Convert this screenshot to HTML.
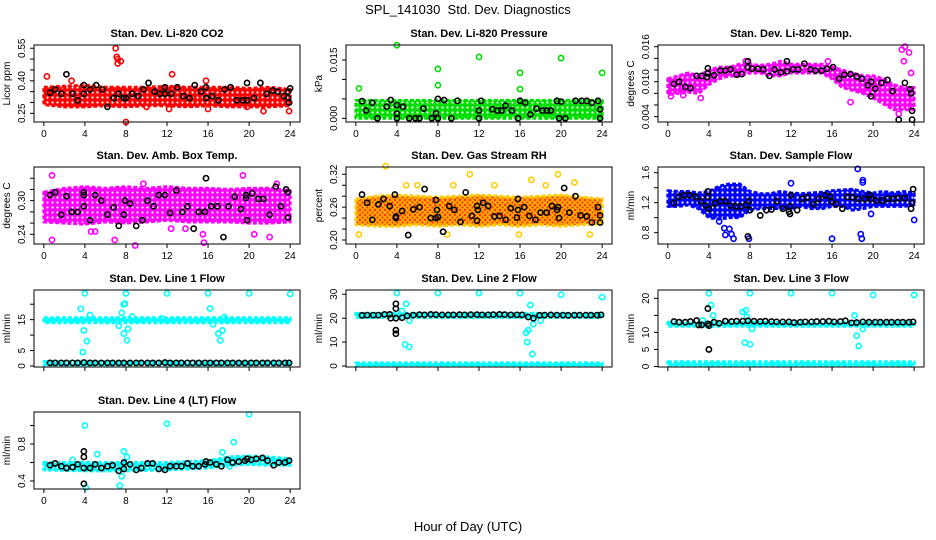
<!DOCTYPE html>
<html><head><meta charset="utf-8">
<style>
html,body{margin:0;padding:0;background:#fff;}
svg{display:block;font-family:"Liberation Sans",sans-serif;}
</style></head>
<body>
<svg id="chart" width="936" height="540" viewBox="0 0 936 540" xmlns="http://www.w3.org/2000/svg">
<defs id="defs">
<pattern id="rhpat" width="5" height="5" patternUnits="userSpaceOnUse">
<rect width="5" height="5" fill="#ff3000"/><circle cx="2.5" cy="2.5" r="1.8" fill="none" stroke="#ffd000" stroke-width="1.2"/>
</pattern>
</defs>
<text x="468" y="14" text-anchor="middle" font-size="13">SPL_141030&#160; Std. Dev. Diagnostics</text>
<text x="468" y="531" text-anchor="middle" font-size="13">Hour of Day (UTC)</text>
</svg>
<script>
// ---------- data ----------
const xTicks = [0,4,8,12,16,20,24];
const lineHours = [0.6,1.1,1.7,2.2,2.8,3.3,3.9,4.5,5.0,5.6,6.2,6.7,7.3,7.8,8.4,9.0,9.5,10.1,10.6,11.2,11.8,12.3,12.9,13.4,14.0,14.5,15.1,15.7,16.2,16.8,17.3,17.9,18.4,19.0,19.6,20.2,20.7,21.3,21.8,22.4,22.9,23.5,23.9];

// CO2
const co2BandX = [0,2,4,6,8,10,12,14,16,18,20,22,24];
const co2BandLo = [0.29,0.28,0.28,0.285,0.28,0.285,0.285,0.28,0.285,0.28,0.28,0.28,0.285];
const co2BandHi = [0.37,0.375,0.38,0.37,0.37,0.37,0.375,0.37,0.37,0.37,0.365,0.37,0.36];
const co2OutX = [0.3,2.7,7.0,7.1,7.2,7.2,7.5,8.0,12.5,21.4,23.9,19.8,12.2,15.8,10.0,16.0];
const co2OutY = [0.42,0.40,0.55,0.51,0.50,0.48,0.49,0.21,0.43,0.26,0.26,0.28,0.27,0.40,0.28,0.27];
const co2BlkX = [0.6,1.1,1.7,2.2,2.8,3.3,3.9,3.9,4.5,5.1,5.7,6.2,6.8,7.3,7.8,8.0,8.6,9.2,9.7,10.2,10.8,11.3,11.8,11.8,12.4,13.0,13.6,14.2,14.7,15.3,15.8,15.8,16.4,17.0,17.6,18.2,18.8,19.4,19.8,19.8,20.5,21.1,21.7,22.3,22.8,23.4,23.8,23.8,23.9,24.0];
const co2BlkY = [0.345,0.36,0.34,0.43,0.34,0.31,0.34,0.38,0.36,0.38,0.36,0.28,0.32,0.34,0.32,0.32,0.34,0.33,0.36,0.39,0.35,0.34,0.37,0.34,0.34,0.37,0.33,0.32,0.38,0.35,0.37,0.32,0.33,0.31,0.36,0.37,0.31,0.31,0.31,0.39,0.32,0.39,0.34,0.355,0.35,0.33,0.35,0.32,0.30,0.365];

// Pressure
const prsBandX = [0,24];
const prsBandLo = [0.0,0.0];
const prsBandHi = [0.0046,0.0046];
const prsOutX = [0.3,4.0,8.0,8.0,12.0,16.0,16.0,20.0,24.0];
const prsOutY = [0.0077,0.0188,0.0127,0.0085,0.0158,0.0117,0.0075,0.0155,0.0117];
const prsBlkX = [0.6,1.0,1.6,2.1,3.0,3.4,4.0,4.0,4.0,4.6,5.2,5.8,6.2,6.6,7.4,7.8,8.0,8.0,8.6,9.3,9.9,12.0,12.0,12.2,13.3,13.8,14.2,14.6,15.2,15.8,16.0,16.5,17.0,17.6,18.2,18.6,19.0,19.6,19.8,20.0,20.4,21.4,22.0,22.5,23.0,23.6,23.8,23.8];
const prsBlkY = [0.0044,0.002,0.004,0.0,0.003,0.0047,0.0012,0.0034,0.0,0.003,0.0,0.0,0.0,0.0025,0.0,0.0013,0.005,0.0,0.0047,0.0,0.0045,0.0,0.002,0.0045,0.0023,0.002,0.002,0.0033,0.002,0.0,0.0045,0.004,0.001,0.0025,0.002,0.002,0.002,0.0045,0.0,0.0043,0.0,0.0045,0.0045,0.0045,0.004,0.0045,0.0023,0.0];

// Li-820 Temp
const tmpBandX = [0,1,2,3,4,5,6,7,8,9,10,11,12,13,14,15,16,17,18,19,20,21,22,23,24];
const tmpBandLo = [0.0078,0.008,0.0082,0.008,0.0095,0.0105,0.011,0.011,0.0115,0.0115,0.011,0.011,0.0115,0.0115,0.0115,0.0115,0.0105,0.009,0.0085,0.008,0.0072,0.0062,0.0052,0.0052,0.0052];
const tmpBandHi = [0.0105,0.011,0.0115,0.011,0.012,0.0125,0.0125,0.013,0.013,0.0128,0.013,0.0135,0.013,0.013,0.013,0.013,0.0125,0.012,0.0115,0.011,0.011,0.0105,0.0095,0.009,0.009];
const tmpOutX = [0.3,22.8,23.1,23.5,23.7,23.0,22.5,3.2,1.5,17.8,7.6,15.6];
const tmpOutY = [0.0075,0.0155,0.016,0.015,0.0115,0.0135,0.0045,0.0072,0.0077,0.0065,0.0135,0.0135];
const tmpBlkX = [0.6,1.1,1.7,2.2,2.8,3.3,3.8,3.9,3.9,4.5,5.1,5.6,6.1,6.7,7.2,7.8,7.8,8.2,8.8,9.3,9.9,10.4,11.0,11.6,11.6,12.2,12.7,13.3,13.9,14.4,15.0,15.5,16.1,16.7,17.2,17.8,18.4,18.9,19.5,19.8,19.8,20.2,20.8,21.4,21.9,22.5,23.1,23.6,23.7,23.8,23.8];
const tmpBlkY = [0.0096,0.01,0.0091,0.0089,0.011,0.011,0.0108,0.0114,0.0123,0.0111,0.0119,0.0119,0.0121,0.0112,0.0113,0.0135,0.0125,0.0122,0.0122,0.0121,0.011,0.0121,0.0116,0.0135,0.0118,0.0121,0.0121,0.0131,0.0121,0.0119,0.0119,0.0122,0.0125,0.0105,0.0112,0.0113,0.0109,0.0105,0.0094,0.01,0.0075,0.0088,0.0098,0.0103,0.0084,0.0035,0.0098,0.0087,0.008,0.005,0.0035];

// Amb box temp
const ambBandX = [0,2,4,6,8,10,12,14,16,18,20,22,24];
const ambBandLo = [0.262,0.26,0.258,0.262,0.26,0.262,0.265,0.262,0.262,0.262,0.26,0.26,0.262];
const ambBandHi = [0.315,0.322,0.325,0.322,0.325,0.322,0.325,0.322,0.322,0.32,0.322,0.322,0.318];
const ambOutX = [0.8,0.8,6.9,8.9,12.4,15.5,19.4,22.0,22.7,4.6,15.6,9.7,5.0,13.8,20.5];
const ambOutY = [0.345,0.23,0.23,0.22,0.25,0.24,0.345,0.235,0.33,0.245,0.225,0.33,0.245,0.25,0.24];
const ambBlkX = [0.6,1.1,1.7,2.2,2.7,3.3,3.9,3.9,3.9,4.5,5.0,5.6,6.2,6.8,7.3,7.8,7.9,8.4,9.0,9.6,10.1,10.7,11.2,11.8,12.3,12.9,13.5,14.0,14.6,15.1,15.7,15.8,16.3,16.9,17.5,18.0,18.6,19.2,19.7,19.7,19.8,20.3,20.9,21.4,22.0,22.6,23.1,23.6,23.8,23.8];
const ambBlkY = [0.31,0.315,0.275,0.308,0.28,0.28,0.31,0.315,0.29,0.265,0.31,0.30,0.275,0.288,0.255,0.275,0.30,0.295,0.255,0.265,0.30,0.29,0.31,0.31,0.278,0.318,0.28,0.29,0.25,0.28,0.28,0.34,0.29,0.29,0.235,0.29,0.307,0.285,0.305,0.31,0.265,0.313,0.303,0.303,0.275,0.325,0.29,0.32,0.315,0.27];

// RH
const rhBandX = [0,2,4,6,8,10,12,14,16,18,20,22,24];
const rhBandLo = [0.228,0.225,0.225,0.228,0.225,0.228,0.225,0.228,0.225,0.228,0.225,0.228,0.23];
const rhBandHi = [0.275,0.28,0.282,0.28,0.278,0.28,0.282,0.28,0.278,0.28,0.282,0.278,0.275];
const rhOutX = [2.9,11.1,19.7,0.3,8.9,15.9,22.8,4.9,21.3,17.1,9.5,13.5,6.0,18.5];
const rhOutY = [0.335,0.32,0.32,0.21,0.21,0.21,0.21,0.30,0.305,0.31,0.30,0.30,0.30,0.30];
const rhBlkX = [0.6,1.1,1.6,2.2,2.7,3.3,3.8,3.9,3.9,4.5,5.1,5.6,6.2,6.7,7.3,7.8,7.8,7.9,8.0,8.5,9.1,9.6,10.2,10.7,11.3,11.8,11.8,11.9,12.4,12.9,13.5,14.0,14.6,15.1,15.7,15.8,15.8,16.4,16.9,17.5,18.0,18.6,19.1,19.6,19.7,19.8,20.3,20.8,21.4,21.9,22.5,23.0,23.6,23.8,23.8];
const rhBlkY = [0.283,0.268,0.237,0.265,0.275,0.262,0.283,0.243,0.24,0.253,0.209,0.256,0.26,0.293,0.24,0.24,0.273,0.255,0.242,0.215,0.262,0.255,0.233,0.287,0.244,0.235,0.262,0.255,0.268,0.262,0.243,0.244,0.237,0.258,0.241,0.255,0.275,0.26,0.244,0.237,0.25,0.25,0.262,0.255,0.26,0.24,0.295,0.25,0.28,0.245,0.243,0.232,0.26,0.245,0.232];

// Sample flow
const smpBandX = [0,1,2,3,4,5,6,7,8,9,10,11,12,13,14,15,16,17,18,19,20,21,22,23,24];
const smpBandLo = [1.15,1.15,1.17,1.12,1.0,0.98,1.0,1.0,1.1,1.12,1.12,1.12,1.12,1.15,1.12,1.12,1.15,1.15,1.1,1.12,1.15,1.15,1.15,1.15,1.17];
const smpBandHi = [1.36,1.35,1.35,1.33,1.35,1.42,1.45,1.45,1.35,1.32,1.32,1.35,1.33,1.32,1.33,1.34,1.36,1.37,1.38,1.35,1.33,1.35,1.33,1.35,1.33];
const smpOutX = [5.5,5.6,6.0,6.2,6.4,7.9,12.0,16.0,18.5,18.8,18.9,19.0,19.0,19.8,24.0,0.4,5.0];
const smpOutY = [0.86,0.77,0.85,0.78,0.72,0.72,1.46,0.72,1.65,0.78,0.72,1.5,1.47,1.05,0.97,1.18,0.95];
const smpBlkX = [0.6,1.1,1.6,2.1,2.7,3.2,3.7,3.9,3.9,4.0,4.6,5.1,5.6,6.1,6.6,7.1,7.6,7.9,7.8,8.0,9.0,9.6,10.1,10.6,11.2,11.8,11.9,11.9,12.0,12.6,13.1,13.6,14.2,14.7,15.3,15.8,15.9,16.4,17.0,17.5,18.0,18.6,19.2,19.7,19.8,20.3,20.9,21.4,22.0,22.5,23.1,23.7,23.8,23.9];
const smpBlkY = [1.2,1.28,1.3,1.3,1.28,1.22,1.16,1.35,1.28,1.12,1.19,1.22,1.22,1.16,1.15,1.15,1.17,1.22,0.75,1.1,1.03,1.1,1.11,1.22,1.12,1.08,1.05,1.15,1.3,1.1,1.25,1.27,1.18,1.25,1.3,1.28,1.22,1.18,1.12,1.28,1.27,1.25,1.25,1.3,1.25,1.23,1.23,1.25,1.25,1.26,1.26,1.12,1.2,1.38];

// Line 1
const l1BandX = [0,24];
const l1BandLo = [14.0,14.0];
const l1BandHi = [15.6,15.6];
const l1Band2Lo = [0.4,0.4];
const l1Band2Hi = [1.4,1.4];
const l1OutX = [4.0,8.0,12.0,16.0,20.0,24.0,3.6,3.8,3.9,4.2,4.5,7.3,7.6,7.8,7.9,7.8,8.1,8.2,8.6,16.2,16.5,17.0,17.2,17.4,17.6,11.5];
const l1OutY = [23.5,23.5,23.5,23.5,23.5,23.3,18.5,4.5,11.5,8.0,16.5,13.0,17.2,20.0,20.2,10.5,8.3,12.0,16.0,18.6,13.5,10.5,8.3,11.5,15.8,15.4];
const l1BlkY = [1.0,1.0,1.0,1.0,1.0,1.0,1.1,1.0,1.0,1.0,1.0,1.0,1.0,1.0,1.0,1.0,1.0,1.0,1.0,1.0,1.1,1.0,1.0,1.0,1.0,1.0,1.0,1.0,1.0,1.0,1.0,1.0,1.0,1.0,1.0,1.0,1.0,1.0,1.0,1.0,1.0,1.0,1.0];

// Line 2
const l2BandX = [0,24];
const l2BandLo = [20.3,20.3];
const l2BandHi = [22.0,22.0];
const l2Band2Lo = [0.0,0.0];
const l2Band2Hi = [1.3,1.3];
const l2OutX = [4.0,8.0,12.0,16.0,20.0,24.0,4.9,4.5,5.2,4.8,5.2,17.0,16.6,16.8,17.3,16.7,17.2,18.0];
const l2OutY = [30.5,30.5,30.5,30.5,29.8,28.8,26.0,23.0,19.0,9.0,8.0,25.5,14.0,15.0,17.5,10.0,5.0,19.0];
const l2BlkX2 = [3.9,3.9,3.9,3.9,3.4];
const l2BlkY2 = [26.0,24.0,15.0,13.5,20.0];
const l2BlkY = [21.2,21.3,21.3,21.3,21.6,21.6,20.0,20.2,21.0,21.3,21.5,21.4,21.6,21.5,21.4,21.4,21.4,21.5,21.4,21.5,21.5,21.4,21.4,21.5,21.6,21.5,21.4,21.4,21.4,20.5,20.0,21.2,21.3,21.4,21.3,21.3,21.2,21.3,21.3,21.3,21.3,21.3,21.4];

// Line 3
const l3BandX = [0,24];
const l3BandLo = [11.8,11.8];
const l3BandHi = [13.0,13.0];
const l3Band2Lo = [0.2,0.2];
const l3Band2Hi = [1.4,1.4];
const l3OutX = [4.0,8.0,12.0,16.0,20.0,24.0,4.2,4.4,7.3,7.6,7.7,7.5,8.0,8.2,18.2,18.4,18.6,3.4,19.0,4.1];
const l3OutY = [21.5,21.5,21.5,21.5,21.0,21.0,18.0,15.0,16.0,16.5,14.5,7.0,6.5,11.0,15.0,9.0,6.0,13.5,11.0,12.0];
const l3BlkX2 = [3.9,4.0,3.0,4.0];
const l3BlkY2 = [17.0,5.0,12.2,12.0];
const l3BlkY = [13.2,13.0,13.0,13.2,13.5,12.2,12.5,13.0,12.7,13.3,13.2,13.3,13.3,13.4,13.3,13.2,13.3,13.2,13.1,13.1,13.1,12.9,13.0,13.1,13.1,13.2,13.2,13.3,13.1,13.2,13.4,12.8,12.9,13.1,13.0,13.0,13.0,13.0,13.0,13.0,13.0,13.0,13.1];

// Line 4
const l4BandX = [0,4,8,12,16,18,20,22,24];
const l4BandLo = [0.52,0.51,0.51,0.52,0.54,0.57,0.58,0.57,0.57];
const l4BandHi = [0.6,0.6,0.6,0.6,0.62,0.66,0.67,0.66,0.64];
const l4OutX = [4.0,12.0,20.0,18.5,4.1,7.4,7.6,7.8,8.1,5.2,2.8,17.4,18.1];
const l4OutY = [1.0,1.02,1.12,0.82,0.33,0.35,0.45,0.72,0.66,0.69,0.63,0.71,0.56];
const l4BlkX2 = [3.9,3.9,3.9,7.8,15.8,19.8];
const l4BlkY2 = [0.72,0.66,0.37,0.6,0.61,0.64];
const l4BlkY = [0.57,0.59,0.56,0.54,0.55,0.58,0.54,0.54,0.58,0.54,0.56,0.57,0.51,0.53,0.58,0.52,0.54,0.59,0.59,0.53,0.52,0.56,0.56,0.56,0.59,0.56,0.56,0.58,0.6,0.58,0.56,0.63,0.6,0.61,0.62,0.63,0.64,0.65,0.62,0.57,0.6,0.6,0.62];

// Axis ticks
const co2Ticks=[0.25,0.30,0.35,0.40,0.45,0.50,0.55], co2Lbl=["0.25","","","0.40","","","0.55"];
const prsTicks=[0,0.005,0.010,0.015], prsLbl=["0.000","","","0.015"];
const tmpTicks=[0.004,0.006,0.008,0.010,0.012,0.014,0.016], tmpLbl=["0.004","","","0.010","","","0.016"];
const ambTicks=[0.24,0.26,0.28,0.30,0.32,0.34], ambLbl=["0.24","","","0.30","",""];
const rhTicks=[0.20,0.22,0.24,0.26,0.28,0.30,0.32], rhLbl=["0.20","","","0.26","","","0.32"];
const smpTicks=[0.8,1.0,1.2,1.4,1.6], smpLbl=["0.8","","1.2","","1.6"];
const l1Ticks=[0,5,10,15,20], l1Lbl=["0","5","","15",""];
const l2Ticks=[0,10,20,30], l2Lbl=["0","10","20","30"];
const l3Ticks=[0,5,10,15,20], l3Lbl=["0","5","10","","20"];
const l4Ticks=[0.4,0.6,0.8,1.0], l4Lbl=["0.4","","0.8",""];

// ---------- drawing ----------
const NS="http://www.w3.org/2000/svg";
const svg=document.getElementById('chart');
const defs=document.getElementById('defs');
const colL=[34,346,658], rowT=[45,167,290,412], PW=266, PH=77;
function mk(tag,attrs,parent){const e=document.createElementNS(NS,tag);for(const k in attrs)e.setAttribute(k,attrs[k]);(parent||svg).appendChild(e);return e;}
function circPattern(id,col){
  const p=mk('pattern',{id:id,width:5,height:5,patternUnits:'userSpaceOnUse'},defs);
  mk('rect',{width:5,height:5,fill:col},p);
  mk('circle',{cx:2.5,cy:2.5,r:1.1,fill:'#fff'},p);
  return 'url(#'+id+')';
}

const panels=[
 {name:"co2",title:"Stan. Dev. Li-820 CO2",ylab:"Licor ppm",c:0,r:0,ymin:0.210,ymax:0.565,ticks:co2Ticks,lbl:co2Lbl,col:"#ff0000",bands:[[co2BandX,co2BandLo,co2BandHi]],ox:co2OutX,oy:co2OutY,bx:co2BlkX,by:co2BlkY,xl:true},
 {name:"pressure",title:"Stan. Dev. Li-820 Pressure",ylab:"kPa",c:1,r:0,ymin:-0.00095,ymax:0.01886,ticks:prsTicks,lbl:prsLbl,col:"#00dd00",bands:[[prsBandX,prsBandLo,prsBandHi]],ox:prsOutX,oy:prsOutY,bx:prsBlkX,by:prsBlkY,xl:true},
 {name:"temp",title:"Stan. Dev. Li-820 Temp.",ylab:"degrees C",c:2,r:0,ymin:0.00309,ymax:0.01629,ticks:tmpTicks,lbl:tmpLbl,col:"#ff00ff",bands:[[tmpBandX,tmpBandLo,tmpBandHi]],ox:tmpOutX,oy:tmpOutY,bx:tmpBlkX,by:tmpBlkY,xl:true},
 {name:"amb-box-temp",title:"Stan. Dev. Amb. Box Temp.",ylab:"degrees C",c:0,r:1,ymin:0.2227,ymax:0.360,ticks:ambTicks,lbl:ambLbl,col:"#ff00ff",bands:[[ambBandX,ambBandLo,ambBandHi]],ox:ambOutX,oy:ambOutY,bx:ambBlkX,by:ambBlkY,xl:true},
 {name:"gas-rh",title:"Stan. Dev. Gas Stream RH",ylab:"percent",c:1,r:1,ymin:0.1927,ymax:0.3333,ticks:rhTicks,lbl:rhLbl,col:"#ffcc00",fill:"url(#rhpat)",bands:[[rhBandX,rhBandLo,rhBandHi]],ox:rhOutX,oy:rhOutY,bx:rhBlkX,by:rhBlkY,xl:true},
 {name:"sample-flow",title:"Stan. Dev. Sample Flow",ylab:"ml/min",c:2,r:1,ymin:0.649,ymax:1.676,ticks:smpTicks,lbl:smpLbl,col:"#0000ff",bands:[[smpBandX,smpBandLo,smpBandHi]],ox:smpOutX,oy:smpOutY,bx:smpBlkX,by:smpBlkY,xl:true},
 {name:"line1-flow",title:"Stan. Dev. Line 1 Flow",ylab:"ml/min",c:0,r:2,ymin:-0.33,ymax:24.6,ticks:l1Ticks,lbl:l1Lbl,col:"#00ffff",bands:[[l1BandX,l1BandLo,l1BandHi],[l1BandX,l1Band2Lo,l1Band2Hi]],ox:l1OutX,oy:l1OutY,bx:lineHours,by:l1BlkY,xl:false},
 {name:"line2-flow",title:"Stan. Dev. Line 2 Flow",ylab:"ml/min",c:1,r:2,ymin:-0.42,ymax:31.8,ticks:l2Ticks,lbl:l2Lbl,col:"#00ffff",bands:[[l2BandX,l2BandLo,l2BandHi],[l2BandX,l2Band2Lo,l2Band2Hi]],ox:l2OutX,oy:l2OutY,bx:lineHours.concat(l2BlkX2),by:l2BlkY.concat(l2BlkY2),xl:false},
 {name:"line3-flow",title:"Stan. Dev. Line 3 Flow",ylab:"ml/min",c:2,r:2,ymin:-0.15,ymax:22.45,ticks:l3Ticks,lbl:l3Lbl,col:"#00ffff",bands:[[l3BandX,l3BandLo,l3BandHi],[l3BandX,l3Band2Lo,l3Band2Hi]],ox:l3OutX,oy:l3OutY,bx:lineHours.concat(l3BlkX2),by:l3BlkY.concat(l3BlkY2),xl:false},
 {name:"line4-flow",title:"Stan. Dev. Line 4 (LT) Flow",ylab:"ml/min",c:0,r:3,ymin:0.3135,ymax:1.146,ticks:l4Ticks,lbl:l4Lbl,col:"#00ffff",bands:[[l4BandX,l4BandLo,l4BandHi]],ox:l4OutX,oy:l4OutY,bx:lineHours.concat(l4BlkX2),by:l4BlkY.concat(l4BlkY2),xl:true}
];

panels.forEach((p,pi)=>{
  const L=colL[p.c], T=rowT[p.r], B=T+PH, R=L+PW;
  const sx=v=>L+(v+0.96)/25.92*PW;
  const sy=v=>B-(v-p.ymin)/(p.ymax-p.ymin)*PH;
  const fill=p.fill||circPattern('pat'+pi,p.col);
  const g=mk('g',{});
  
  
  const t=mk('text',{x:(L+R)/2,y:T-8,'text-anchor':'middle','font-size':11,'font-weight':'bold'},g);
  t.textContent=p.title;
  
  
  const yl=mk('text',{x:L-24,y:(T+B)/2,'text-anchor':'middle','font-size':10,transform:`rotate(-90 ${L-24} ${(T+B)/2})`},g);
  yl.textContent=p.ylab;
  
  
  const cg=mk('g',{},g);
  p.bands.forEach(b=>{
    const bx=b[0], lo=b[1], hi=b[2];
    let pts=[];
    for(let i=0;i<bx.length;i++)pts.push(sx(bx[i])+','+sy(hi[i]));
    for(let i=bx.length-1;i>=0;i--)pts.push(sx(bx[i])+','+sy(lo[i]));
    const poly=mk('polygon',{points:pts.join(' '),fill:fill,stroke:p.col,'stroke-width':3,'stroke-linejoin':'round','stroke-dasharray':'4 2'},cg);
    
    
  });
  p.ox.forEach((x,i)=>{
    const c=mk('circle',{cx:sx(x),cy:sy(p.oy[i]),r:2.6,fill:'none',stroke:p.col,'stroke-width':1.6},cg);
    
    
  });
  p.bx.forEach((x,i)=>{
    const c=mk('circle',{cx:sx(x),cy:sy(p.by[i]),r:2.6,fill:'none',stroke:'#000','stroke-width':1.6},cg);
    
    
  });
  const box=mk('rect',{x:L,y:T,width:PW,height:PH,fill:'none',stroke:'#000','stroke-width':1},g);
  
  
  const xa=mk('g',{},g);
  
  
  mk('line',{x1:sx(xTicks[0]),x2:sx(xTicks[xTicks.length-1]),y1:B,y2:B,stroke:'#000'},xa);
  xTicks.forEach(v=>{
    mk('line',{x1:sx(v),x2:sx(v),y1:B,y2:B+4,stroke:'#000'},xa);
    if(p.xl){const tx=mk('text',{x:sx(v),y:B+15,'text-anchor':'middle','font-size':10},xa);tx.textContent=v;}
  });
  const ya=mk('g',{},g);
  
  
  mk('line',{x1:L,x2:L,y1:sy(p.ticks[0]),y2:sy(p.ticks[p.ticks.length-1]),stroke:'#000'},ya);
  p.ticks.forEach((v,i)=>{
    mk('line',{x1:L,x2:L-4,y1:sy(v),y2:sy(v),stroke:'#000'},ya);
    if(p.lbl[i]){const X=L-9,Y=sy(v);const tx=mk('text',{x:X,y:Y,'text-anchor':'middle','font-size':10,transform:`rotate(-90 ${X} ${Y})`},ya);tx.textContent=p.lbl[i];}
  });
});
</script>
</body></html>
